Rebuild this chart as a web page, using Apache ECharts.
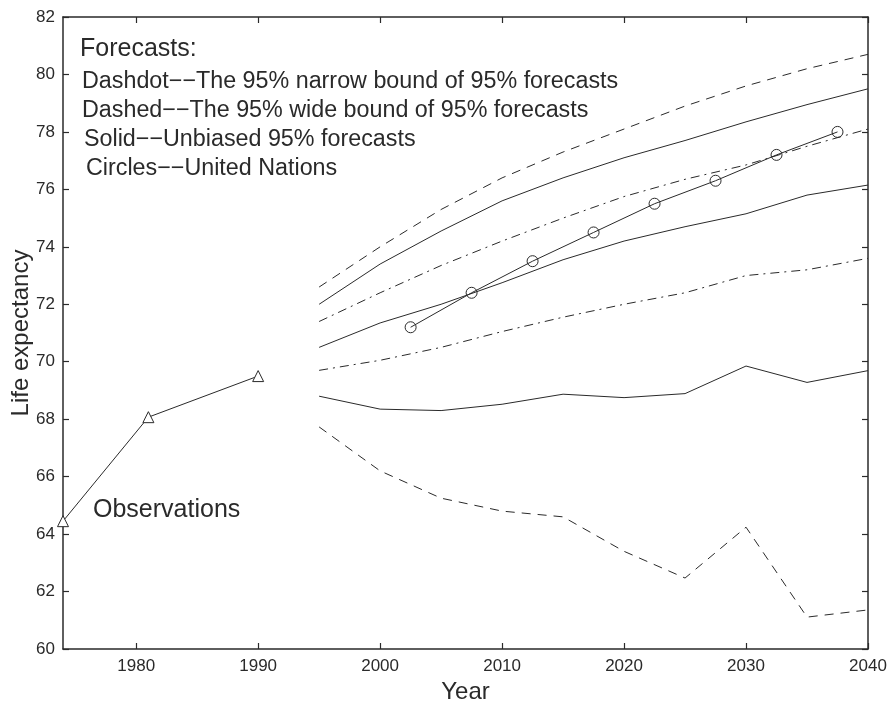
<!DOCTYPE html>
<html>
<head>
<meta charset="utf-8">
<script src="https://cdn.jsdelivr.net/npm/echarts@6/dist/echarts.min.js"></script>
<style>
  html, body { margin: 0; padding: 0; background: #fff; }
  #chart { width: 893px; height: 704px; }
</style>
</head>
<body>
<div id="chart"></div>
<script>
// Observed life expectancy
const obsYears = [1974, 1981, 1990];
const obsValues = [64.45, 68.07, 69.5];

// Forecast horizon (5-year steps)
const fcYears = [1995, 2000, 2005, 2010, 2015, 2020, 2025, 2030, 2035, 2040];
const wideUpper   = [72.6, 74.0, 75.3, 76.4, 77.3, 78.1, 78.9, 79.6, 80.2, 80.7];
const unbiasedUp  = [72.0, 73.4, 74.55, 75.6, 76.4, 77.1, 77.7, 78.35, 78.95, 79.5];
const narrowUpper = [71.4, 72.4, 73.35, 74.2, 75.0, 75.75, 76.35, 76.85, 77.5, 78.1];
const unbiasedMid = [70.5, 71.35, 72.0, 72.75, 73.55, 74.2, 74.7, 75.15, 75.8, 76.15];
const narrowLower = [69.7, 70.05, 70.5, 71.05, 71.55, 72.0, 72.4, 73.0, 73.2, 73.6];
const unbiasedLow = [68.8, 68.35, 68.3, 68.52, 68.87, 68.75, 68.89, 69.85, 69.28, 69.69];
const wideLower   = [67.73, 66.2, 65.25, 64.8, 64.6, 63.4, 62.47, 64.24, 61.11, 61.36];

// United Nations projections
const unYears = [2002.5, 2007.5, 2012.5, 2017.5, 2022.5, 2027.5, 2032.5, 2037.5];
const unValues = [71.2, 72.4, 73.5, 74.5, 75.5, 76.3, 77.2, 78.0];

// Axis ticks
const xTicks = [1980, 1990, 2000, 2010, 2020, 2030, 2040];

const legendLines = [
  'Forecasts:',
  'Dashdot\u2212\u2212The 95% narrow bound of 95% forecasts',
  'Dashed\u2212\u2212The 95% wide bound of 95% forecasts',
  'Solid\u2212\u2212Unbiased 95% forecasts',
  'Circles\u2212\u2212United Nations'
];
const noteText = 'Observations';

const pair = (xs, ys) => xs.map((x, i) => [x, ys[i]]);
const INK = '#2a2a2a';
const FONT = '"Liberation Sans", Arial, Helvetica, sans-serif';
const DASHED = [9, 7];
const DASHDOT = [9, 5, 2, 5];

function lineSeries(name, xs, ys, type, extra) {
  return Object.assign({
    name: name,
    type: 'line',
    data: pair(xs, ys),
    symbol: 'none',
    silent: true,
    animation: false,
    lineStyle: { color: INK, width: 1, type: type }
  }, extra || {});
}

const chart = echarts.init(document.getElementById('chart'), null, { renderer: 'canvas' });

const axisCommon = {
  axisLine: { show: true, lineStyle: { color: INK, width: 1.5 } },
  axisTick: { show: true, inside: true, length: 6, lineStyle: { color: INK, width: 1.2 } },
  splitLine: { show: false }
};
const plain = v => String(v);

chart.setOption({
  backgroundColor: '#ffffff',
  animation: false,
  grid: { left: 63, right: 25, top: 17, bottom: 55, containLabel: false, outerBoundsMode: 'none' },
  xAxis: [
    Object.assign({}, axisCommon, {
      type: 'value', min: 1974, max: 2040, position: 'bottom',
      name: 'Year', nameLocation: 'middle', nameGap: 28,
      nameTextStyle: { fontFamily: FONT, fontSize: 24, color: INK },
      axisTick: Object.assign({}, axisCommon.axisTick, { customValues: xTicks }),
      axisLabel: { customValues: xTicks, formatter: plain, fontFamily: FONT, fontSize: 17, color: INK, margin: 9 }
    }),
    Object.assign({}, axisCommon, {
      type: 'value', min: 1974, max: 2040, position: 'top',
      axisTick: Object.assign({}, axisCommon.axisTick, { customValues: xTicks }),
      axisLabel: { show: false }
    })
  ],
  yAxis: [
    Object.assign({}, axisCommon, {
      type: 'value', min: 60, max: 82, interval: 2, position: 'left',
      name: 'Life expectancy', nameLocation: 'middle', nameGap: 30, nameRotate: 90,
      nameMoveOverlap: false,
      nameTextStyle: { fontFamily: FONT, fontSize: 24, color: INK },
      axisLabel: { formatter: plain, fontFamily: FONT, fontSize: 17, color: INK, margin: 8 }
    }),
    Object.assign({}, axisCommon, {
      type: 'value', min: 60, max: 82, interval: 2, position: 'right',
      axisLabel: { show: false }
    })
  ],
  series: [
    lineSeries('Observations', obsYears, obsValues, 'solid', {
      symbol: 'triangle', symbolSize: 11, clip: false,
      itemStyle: { color: '#fff', borderColor: INK, borderWidth: 1 }
    }),
    lineSeries('Wide upper', fcYears, wideUpper, DASHED),
    lineSeries('Unbiased upper', fcYears, unbiasedUp, 'solid'),
    lineSeries('Narrow upper', fcYears, narrowUpper, DASHDOT),
    lineSeries('Unbiased', fcYears, unbiasedMid, 'solid'),
    lineSeries('Narrow lower', fcYears, narrowLower, DASHDOT),
    lineSeries('Unbiased lower', fcYears, unbiasedLow, 'solid'),
    lineSeries('Wide lower', fcYears, wideLower, DASHED),
    lineSeries('United Nations', unYears, unValues, 'solid', {
      symbol: 'circle', symbolSize: 11,
      itemStyle: { color: 'rgba(255,255,255,0)', borderColor: INK, borderWidth: 1 }
    })
  ],
  graphic: [
    { type: 'text', left: 80, top: 37, style: { text: legendLines[0], font: '25px ' + FONT, fill: INK } },
    { type: 'text', left: 82, top: 70, style: { text: legendLines[1], font: '23.3px ' + FONT, fill: INK } },
    { type: 'text', left: 82, top: 99, style: { text: legendLines[2], font: '23.3px ' + FONT, fill: INK } },
    { type: 'text', left: 84, top: 128, style: { text: legendLines[3], font: '23.3px ' + FONT, fill: INK } },
    { type: 'text', left: 86, top: 157, style: { text: legendLines[4], font: '23.3px ' + FONT, fill: INK } },
    { type: 'text', left: 93, top: 498, style: { text: noteText, font: '25px ' + FONT, fill: INK } }
  ]
});
</script>
</body>
</html>
